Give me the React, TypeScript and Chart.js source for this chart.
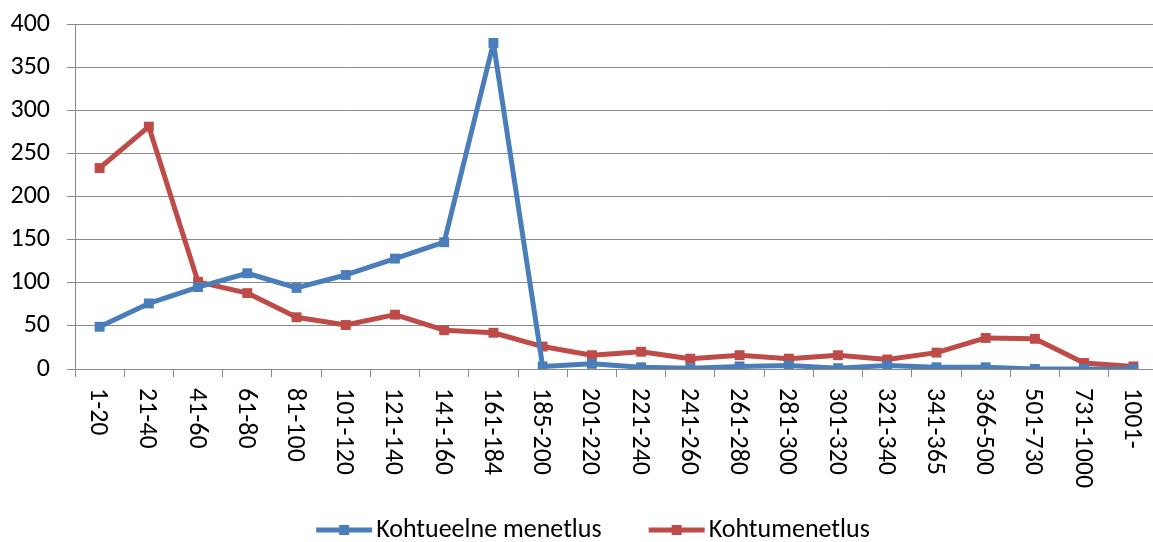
import React, { useEffect, useRef } from "react";
import { Chart, registerables } from "chart.js";

Chart.register(...registerables);

const categories = [
  "1-20", "21-40", "41-60", "61-80", "81-100", "101-120", "121-140", "141-160",
  "161-184", "185-200", "201-220", "221-240", "241-260", "261-280", "281-300",
  "301-320", "321-340", "341-365", "366-500", "501-730", "731-1000", "1001-",
];
const kohtueelne = [49, 76, 95, 111, 94, 109, 128, 147, 378, 3, 6, 2, 1, 3, 4, 1, 4, 2, 2, 0, 0, 0];
const kohtumenetlus = [233, 281, 101, 88, 60, 51, 63, 45, 42, 26, 16, 20, 12, 16, 12, 16, 11, 19, 36, 35, 7, 3];
const seriesNames = ["Kohtueelne menetlus", "Kohtumenetlus"];
const yTicks = [0, 50, 100, 150, 200, 250, 300, 350, 400];

const BLUE = "#4A7EBB";
const RED = "#BE4B48";
const COLORS = [BLUE, RED];
const GRID = "#8a8a8a";
const FONT = "Carlito, Calibri, Lato, 'Open Sans', sans-serif";
const FS = 26;

const customText = {
  id: "customText",
  afterDraw(chart: any) {
    const xs = chart.scales.x;
    const ctx = chart.ctx;
    const top = chart.chartArea.bottom + 19;
    ctx.save();
    ctx.font = `${FS}px ${FONT}`;
    ctx.fillStyle = "#000";
    ctx.textAlign = "left";
    ctx.textBaseline = "middle";
    categories.forEach((lab, i) => {
      const x = xs.getPixelForValue(i);
      ctx.save();
      ctx.translate(x - 2, top);
      ctx.rotate(Math.PI / 2);
      ctx.fillText(lab, 0, 0);
      ctx.restore();
    });
    // legend
    const mw = 56, gapText = 4, gapItem = 47;
    const widths = seriesNames.map((s) => ctx.measureText(s).width);
    const total = widths.reduce((a, w) => a + mw + gapText + w, 0) + gapItem * (seriesNames.length - 1);
    let x = 593 - total / 2;
    const y = 530;
    seriesNames.forEach((name, i) => {
      ctx.fillStyle = COLORS[i];
      ctx.fillRect(x, y - 2.5, mw, 5);
      ctx.fillRect(x + mw / 2 - 5, y - 5, 10, 10);
      ctx.fillStyle = "#000";
      ctx.fillText(name, x + mw + gapText, y);
      x += mw + gapText + widths[i] + gapItem;
    });
    ctx.restore();
  },
};

export default function App() {
  const ref = useRef<HTMLCanvasElement | null>(null);
  useEffect(() => {
    document.body.style.margin = "0";
    document.body.style.overflow = "hidden";
    const ds = (label: string, data: number[], color: string) => ({
      label,
      data,
      borderColor: color,
      backgroundColor: color,
      borderWidth: 5,
      borderJoinStyle: "round" as const,
      pointStyle: "rect" as const,
      pointRadius: 7,
      pointBorderWidth: 0,
      tension: 0,
    });
    const chart = new Chart(ref.current!, {
      type: "line",
      data: {
        labels: categories,
        datasets: [
          ds(seriesNames[0], kohtueelne, BLUE),
          ds(seriesNames[1], kohtumenetlus, RED),
        ],
      },
      options: {
        animation: false,
        responsive: false,
        layout: { autoPadding: false, padding: { top: 24, right: 0, left: 0, bottom: 0 } },
        plugins: {
          tooltip: { enabled: false },
          legend: { display: false },
        },
        scales: {
          x: {
            offset: true,
            afterFit: (s: any) => {
              s.height = 173;
              s.paddingLeft = 0;
              s.paddingRight = 0;
            },
            grid: {
              display: true,
              drawOnChartArea: false,
              drawTicks: true,
              tickLength: 8,
              offset: true,
              color: GRID,
            },
            border: { color: GRID, width: 1 },
            ticks: {
              autoSkip: false,
              minRotation: 90,
              maxRotation: 90,
              padding: 11,
              color: "rgba(0,0,0,0)",
              font: { size: FS, family: FONT },
            },
          },
          y: {
            min: 0,
            max: 400,
            afterFit: (s: any) => {
              s.width = 75;
              s.paddingTop = 0;
              s.paddingBottom = 0;
            },
            afterBuildTicks: (s: any) => {
              s.ticks = yTicks.map((v) => ({ value: v }));
            },
            grid: { color: GRID, tickLength: 8, lineWidth: 1 },
            border: { color: GRID, width: 1 },
            ticks: {
              color: "#000",
              padding: 17,
              font: { size: FS, family: FONT },
            },
          },
        },
      },
      plugins: [customText],
    });
    return () => chart.destroy();
  }, []);
  return <canvas ref={ref} width={1158} height={542} style={{ display: "block" }} />;
}
